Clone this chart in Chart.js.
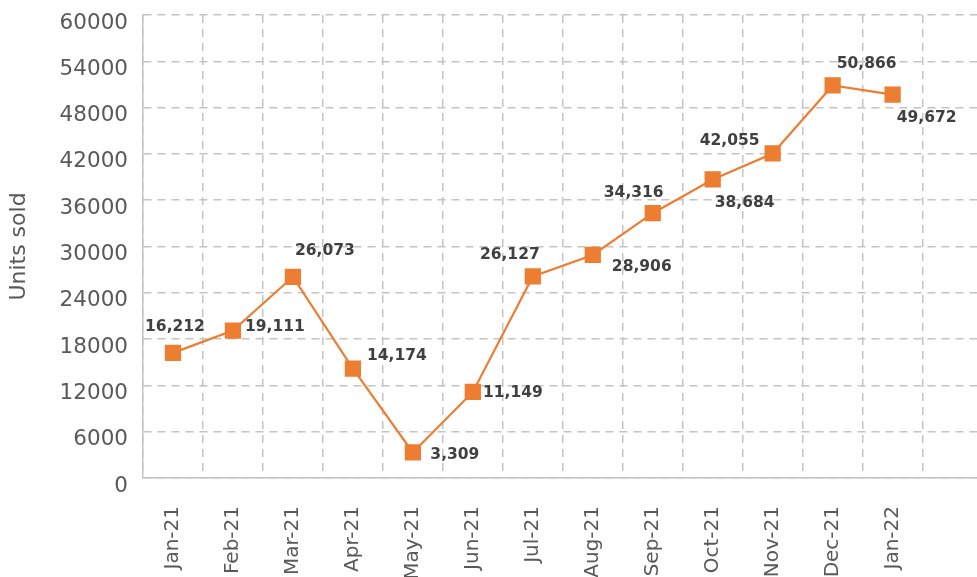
<!DOCTYPE html>
<html>
<head>
<meta charset="utf-8">
<script src="https://cdn.jsdelivr.net/npm/chart.js@4"></script>
<style>
  html, body { margin: 0; padding: 0; background: #fff; overflow: hidden; }
  #wrap { position: relative; width: 1005px; height: 610px; }
</style>
</head>
<body>
<div id="wrap"><canvas id="chart"></canvas></div>
<script>
// Monthly units sold, Jan-21 .. Jan-22 (last slot is an empty category in the original)
const MONTHS = ['Jan-21', 'Feb-21', 'Mar-21', 'Apr-21', 'May-21', 'Jun-21', 'Jul-21',
                'Aug-21', 'Sep-21', 'Oct-21', 'Nov-21', 'Dec-21', 'Jan-22', ''];
const UNITS  = [16212, 19111, 26073, 14174, 3309, 11149, 26127,
                28906, 34316, 38684, 42055, 50866, 49672, null];
const Y_TICK_STEP = 6000;
const Y_MAX = 60000;

// label placement relative to each marker [dx, dy] (style only)
const LABEL_OFFSETS = [
  [2, -26], [42, -4], [32, -26], [44, -13], [42, 3], [40, 1], [-23, -21],
  [49, 12], [-19, -20], [32, 23], [-43, -13], [34, -22], [34, 23]
];

const ORANGE = '#ED7D31';
const GRID   = '#c4c4c4';
const TEXT   = '#595959';
const FONT   = 'DejaVu Sans';

// ── Point value labels ────────────────────────────────────────────────────────
const valueLabels = {
  id: 'valueLabels',
  afterDatasetsDraw(chart) {
    const { ctx } = chart;
    const meta = chart.getDatasetMeta(0);
    ctx.save();
    ctx.font = `bold 15.5px "${FONT}"`;
    ctx.fillStyle = '#404040';
    ctx.textAlign = 'center';
    ctx.textBaseline = 'middle';
    meta.data.forEach((pt, i) => {
      const v = UNITS[i];
      if (v == null) return;
      const [dx, dy] = LABEL_OFFSETS[i] || [0, -20];
      ctx.fillText(v.toLocaleString('en-US'), pt.x + dx, pt.y + dy);
    });
    ctx.restore();
  }
};

new Chart(document.getElementById('chart'), {
  type: 'line',
  data: {
    labels: MONTHS,
    datasets: [{
      label: 'Units sold',
      data: UNITS,
      borderColor: ORANGE,
      backgroundColor: ORANGE,
      borderWidth: 2.2,
      pointStyle: 'rect',
      pointRadius: 11.5,
      pointHoverRadius: 11.5,
      pointBorderWidth: 0,
      tension: 0,
      spanGaps: false
    }]
  },
  options: {
    responsive: true,
    maintainAspectRatio: false,
    animation: false,
    layout: { padding: { top: 15, right: 7, left: 0, bottom: 0 } },
    plugins: {
      legend: { display: false },
      tooltip: { enabled: false }
    },
    scales: {
      x: {
        type: 'category',
        offset: true,
        grid: {
          offset: true,
          color: GRID,
          lineWidth: 1.5,
          drawTicks: false
        },
        border: { display: true, color: GRID, width: 1.5, dash: [8, 6] },
        ticks: {
          color: TEXT,
          font: { family: FONT, size: 20 },
          minRotation: 90,
          maxRotation: 90,
          autoSkip: false,
          padding: 28
        },
        afterFit(scale) { scale.height = 132; }
      },
      y: {
        min: 0,
        max: Y_MAX,
        grid: {
          color: GRID,
          lineWidth: 1.5,
          drawTicks: false
        },
        border: { display: true, color: GRID, width: 1.5, dash: [8, 6] },
        ticks: {
          stepSize: Y_TICK_STEP,
          color: TEXT,
          font: { family: FONT, size: 21.5 },
          padding: 15,
          labelOffset: 8,
          callback: v => String(v)
        },
        title: {
          display: true,
          text: 'Units sold',
          color: TEXT,
          font: { family: FONT, size: 22 },
          padding: { top: 6, bottom: 0 }
        },
        afterFit(scale) {
          scale.width = 143;
          scale.paddingTop = 0;
          scale.paddingBottom = 0;
        }
      }
    }
  },
  plugins: [valueLabels]
});
</script>
</body>
</html>
